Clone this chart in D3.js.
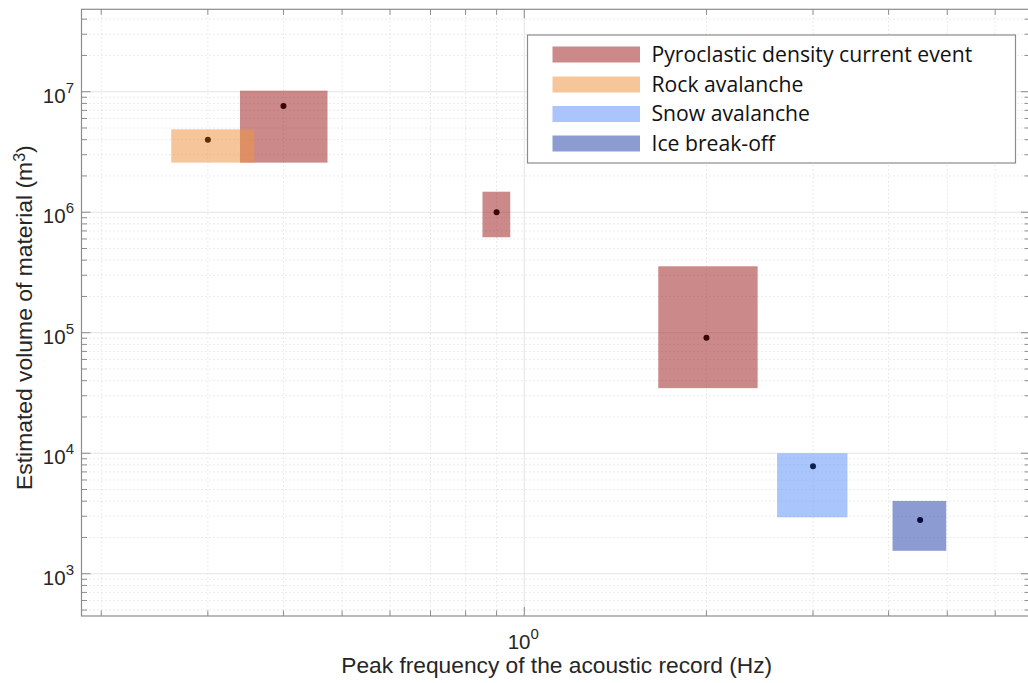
<!DOCTYPE html>
<html>
<head>
<meta charset="utf-8">
<script src="https://cdn.jsdelivr.net/npm/d3@7"></script>
<style>
  html, body { margin: 0; padding: 0; background: #fff; }
  svg { display: block; }
</style>
</head>
<body>
<svg id="chart" width="1028" height="683"></svg>
<script>
// ---------------- data ----------------
const categories = ["Pyroclastic density current event", "Rock avalanche", "Snow avalanche", "Ice break-off"];
const categoryFill = ["rgb(160,40,40)", "rgb(238,150,70)", "rgb(100,147,249)", "rgb(47,73,175)"];
const categoryDot = ["#3a0505", "#5a2c08", "#0c2250", "#050c40"];

// each event: category index, peak frequency (Hz) with range, estimated volume (m^3) with range
const eventCategory = [0, 1, 0, 0, 2, 3];
const freqPeak = [0.40, 0.30, 0.90, 2.0, 3.0, 4.51];
const freqLow  = [0.339, 0.261, 0.853, 1.665, 2.617, 4.06];
const freqHigh = [0.473, 0.358, 0.948, 2.43, 3.42, 4.98];
const volPeak  = [7.6e6, 4.0e6, 1.0e6, 9.1e4, 7.8e3, 2.79e3];
const volLow   = [2.58e6, 2.58e6, 6.2e5, 3.47e4, 2.94e3, 1.55e3];
const volHigh  = [1.02e7, 4.87e6, 1.48e6, 3.56e5, 1.0e4, 4.02e3];

const xTickValues = [1];
const yTickValues = [1e3, 1e4, 1e5, 1e6, 1e7];
const xLabel = "Peak frequency of the acoustic record (Hz)";
const yLabel = "Estimated volume of material (m";

// ---------------- layout ----------------
const svg = d3.select("#chart");
const pL = 81.5, pR = 1030, pT = 9.3, pB = 616;
const xDomain = [0.1855, 6.85];
const yDomain = [446, 4.83e7];

const x = d3.scaleLog().domain(xDomain).range([pL, pR]);
const y = d3.scaleLog().domain(yDomain).range([pB, pT]);

function fitWidth(sel, target) {
  const node = sel.node();
  const w = node.getComputedTextLength ? node.getBBox().width : 0;
  if (w > 0) {
    const fs = parseFloat(sel.attr("font-size"));
    sel.attr("font-size", fs * target / w);
  }
}

// minor tick values
function minorTicks(domain) {
  const out = [];
  const lo = Math.floor(Math.log10(domain[0])), hi = Math.ceil(Math.log10(domain[1]));
  for (let e = lo; e <= hi; e++) {
    for (let m = 1; m <= 9; m++) {
      const v = m * Math.pow(10, e);
      if (v >= domain[0] && v <= domain[1]) out.push({v, major: m === 1});
    }
  }
  return out;
}
const xt = minorTicks(xDomain);
const yt = minorTicks(yDomain);

const plot = svg.append("g");
plot.append("defs").append("clipPath").attr("id", "clip")
  .append("rect").attr("x", pL).attr("y", pT).attr("width", pR - pL).attr("height", pB - pT);

// grid
const grid = plot.append("g");
grid.selectAll(".xg").data(xt).join("line")
  .attr("x1", d => x(d.v)).attr("x2", d => x(d.v))
  .attr("y1", pT).attr("y2", pB)
  .attr("stroke", d => d.major ? "#e4e4e4" : "#d6d6d6")
  .attr("stroke-width", 1)
  .attr("stroke-dasharray", d => d.major ? null : "1,3");
grid.selectAll(".yg").data(yt).join("line")
  .attr("y1", d => y(d.v)).attr("y2", d => y(d.v))
  .attr("x1", pL).attr("x2", pR)
  .attr("stroke", d => d.major ? "#e4e4e4" : "#d6d6d6")
  .attr("stroke-width", 1)
  .attr("stroke-dasharray", d => d.major ? null : "1,3");

// boxes
const idx = d3.range(eventCategory.length);
const marks = plot.append("g").attr("clip-path", "url(#clip)");
marks.selectAll("rect.box").data(idx).join("rect")
  .attr("class", "box")
  .attr("x", i => x(freqLow[i]))
  .attr("width", i => x(freqHigh[i]) - x(freqLow[i]))
  .attr("y", i => y(volHigh[i]))
  .attr("height", i => y(volLow[i]) - y(volHigh[i]))
  .attr("fill", i => categoryFill[eventCategory[i]])
  .attr("fill-opacity", 0.55);
marks.selectAll("circle.pk").data(idx).join("circle")
  .attr("class", "pk")
  .attr("cx", i => x(freqPeak[i]))
  .attr("cy", i => y(volPeak[i]))
  .attr("r", 3)
  .attr("fill", i => categoryDot[eventCategory[i]]);

// axes frame
const axisColor = "#8c8c8c";
plot.append("rect").attr("x", pL).attr("y", pT).attr("width", pR - pL).attr("height", pB - pT)
  .attr("fill", "none").attr("stroke", axisColor).attr("stroke-width", 1.2);

// inward ticks (bottom/top, left/right)
const ticks = plot.append("g").attr("stroke", axisColor).attr("stroke-width", 1);
xt.forEach(d => {
  const len = d.major ? 9 : 5.5;
  ticks.append("line").attr("x1", x(d.v)).attr("x2", x(d.v)).attr("y1", pB).attr("y2", pB - len);
  ticks.append("line").attr("x1", x(d.v)).attr("x2", x(d.v)).attr("y1", pT).attr("y2", pT + len);
});
yt.forEach(d => {
  const len = d.major ? 9 : 5.5;
  ticks.append("line").attr("y1", y(d.v)).attr("y2", y(d.v)).attr("x1", pL).attr("x2", pL + len);
  ticks.append("line").attr("y1", y(d.v)).attr("y2", y(d.v)).attr("x1", pR).attr("x2", pR - len);
});

// tick labels
const tickFont = "'Liberation Sans', Arial, Helvetica, sans-serif";
const tickColor = "#262626";
function powLabel(g, v) {
  const e = Math.round(Math.log10(v));
  g.append("tspan").text("10");
  g.append("tspan").attr("font-size", 15).attr("dy", -10).text(String(e));
}
plot.selectAll(".xtl").data(xTickValues).join("text")
  .attr("x", d => x(d) - 1).attr("y", 649)
  .attr("text-anchor", "middle")
  .attr("font-family", tickFont).attr("font-size", 20.5).attr("fill", tickColor)
  .each(function(d) { powLabel(d3.select(this), d); });
plot.selectAll(".ytl").data(yTickValues).join("text")
  .attr("x", 74).attr("y", d => y(d) + 11)
  .attr("text-anchor", "end")
  .attr("font-family", tickFont).attr("font-size", 20.5).attr("fill", tickColor)
  .each(function(d) { powLabel(d3.select(this), d); });

// axis labels
const xl = plot.append("text")
  .attr("x", (pL + pR) / 2 + 1).attr("y", 673)
  .attr("text-anchor", "middle")
  .attr("font-family", tickFont).attr("font-size", 20).attr("fill", tickColor)
  .text(xLabel);
fitWidth(xl, 431);
const yl = plot.append("text")
  .attr("transform", `translate(32,${(pT + pB) / 2 + 5}) rotate(-90)`)
  .attr("text-anchor", "middle")
  .attr("font-family", tickFont).attr("font-size", 20).attr("fill", tickColor);
yl.append("tspan").text(yLabel);
yl.append("tspan").attr("font-size", "0.7em").attr("dy", "-0.45em").text("3");
yl.append("tspan").attr("dy", "0.315em").text(")");
fitWidth(yl, 345);

// legend
const leg = svg.append("g");
leg.append("rect").attr("x", 527.5).attr("y", 35).attr("width", 488).attr("height", 128)
  .attr("fill", "#fff").attr("stroke", "#8c8c8c").attr("stroke-width", 1.2);
const rowY = [54.5, 84.5, 114, 143.5];
let legSize = 19.5;
categories.forEach((c, i) => {
  leg.append("rect").attr("x", 552.5).attr("y", rowY[i] - 8).attr("width", 87.5).attr("height", 16)
    .attr("fill", categoryFill[i]).attr("fill-opacity", 0.55);
  const t = leg.append("text").attr("x", 651.5).attr("y", rowY[i] + 7)
    .attr("font-family", "'Open Sans', Lato, sans-serif").attr("font-size", legSize).attr("fill", "#111")
    .text(c);
  if (i === 0) { fitWidth(t, 321); legSize = parseFloat(t.attr("font-size")); }
});
</script>
</body>
</html>
